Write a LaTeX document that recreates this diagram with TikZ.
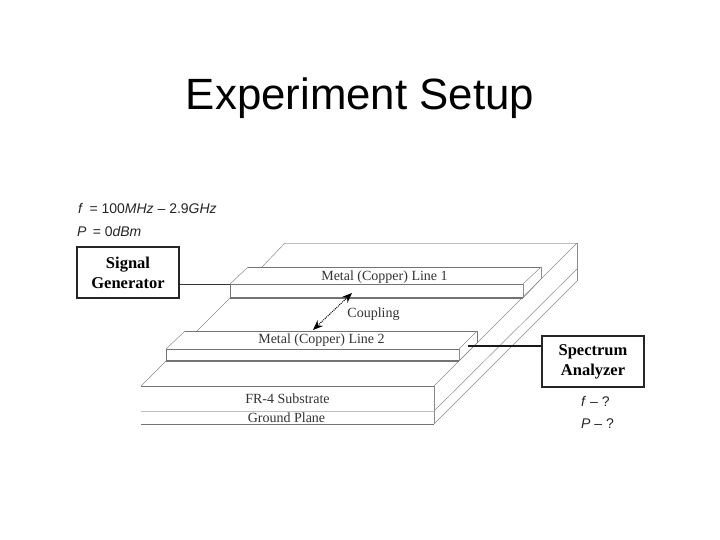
\documentclass[tikz,border=0pt]{standalone}
\usepackage{fontspec}
\setmainfont{Liberation Serif}
\newfontfamily\sansf{Liberation Sans}
\usetikzlibrary{arrows.meta}
\definecolor{edgegray}{gray}{0.45}
\definecolor{softgray}{gray}{0.75}
\definecolor{thingray}{gray}{0.55}
\tikzset{
  x=1pt,y=-1pt,
  edge/.style={draw=edgegray,line width=0.8pt},
  softedge/.style={draw=softgray,line width=0.7pt},
  thinedge/.style={draw=thingray,line width=0.5pt},
  frontedge/.style={draw=edgegray,line width=1.2pt},
  instrument/.style={draw=black!85,line width=1.1pt,fill=white,inner sep=0pt,
    minimum width=102pt,minimum height=51pt,align=center,
    font=\fontsize{16.5}{20}\selectfont\bfseries},
  wire/.style={draw=black!80,line width=0.8pt},
  heavywire/.style={draw=black!90,line width=1.2pt},
  layerlabel/.style={anchor=base,inner sep=0pt,text=black!80,font=\fontsize{14}{16}\selectfont},
  readout/.style={anchor=base west,inner sep=0pt,text=black!85,font=\sansf\fontsize{14}{16}\selectfont},
}
\begin{document}
\begin{tikzpicture}
\useasboundingbox[fill=white] (0,0) rectangle (720,540);
\node[anchor=base,inner sep=0pt,font=\sansf\fontsize{43.8}{48}\selectfont] (title) at (360,110) {Experiment Setup};
% substrate
\draw[softedge] (285,243) -- (577,243);
\draw[thinedge] (577,243) -- (577,281);
\draw[thinedge] (577,269) -- (434,411);
\draw[thinedge] (577,281) -- (434,424);
\draw[thinedge] (577,243) -- (434,386);
\draw[thinedge] (434,386) -- (434,424);
\draw[thinedge] (285,243) -- (262,267);
\draw[thinedge] (230,298) -- (197,331);
\draw[thinedge] (166,361) -- (141,386);
\draw[edge] (141,386) -- (434,386);
\draw[softedge] (141,411) -- (434,411);
\draw[edge] (141,424) -- (434,424);
% line 1
\draw[edge] (248,267) -- (541,267);
\draw[thinedge] (248,267) -- (230,284);
\draw[edge] (230,284) -- (523,284);
\draw[frontedge] (230,298) -- (523,298);
\draw[edge] (230,284) -- (230,298);
\draw[thinedge] (523,284) -- (523,298);
\draw[thinedge] (523,284) -- (541,267);
\draw[thinedge] (523,298) -- (541,279);
\draw[thinedge] (541,267) -- (541,279);
% line 2
\draw[edge] (185,331) -- (477,331);
\draw[thinedge] (185,331) -- (166,349);
\draw[edge] (166,349) -- (459,349);
\draw[frontedge] (166,361) -- (459,361);
\draw[edge] (166,349) -- (166,361);
\draw[thinedge] (459,349) -- (459,361);
\draw[thinedge] (459,349) -- (477,331);
\draw[thinedge] (459,361) -- (477,343);
\draw[edge] (477,331) -- (477,343);
% labels
\node[layerlabel] (m1) at (384.5,280) {Metal (Copper) Line 1};
\node[layerlabel] (m2) at (321.5,343.5) {Metal (Copper) Line 2};
\node[layerlabel] (cp) at (373.5,317) {Coupling};
\node[layerlabel] (fr) at (287.5,403) {FR-4 Substrate};
\node[layerlabel] (gp) at (286.5,422) {Ground Plane};
% instruments
\node[instrument] (sg) at (128,272.5) {Signal\\Generator};
\node[instrument] (sa) at (593,361.5) {Spectrum\\Analyzer};
\coordinate (sgend) at (230,284);
\coordinate (saend) at (468,346);
\draw[wire] (sg.east |- sgend) -- (sgend);
\draw[heavywire] (sa.west |- saend) -- (saend);
% coupling arrow
\coordinate (cpa) at (313,330);
\coordinate (cpb) at (352,293);
\draw[densely dotted,line width=1pt,{Stealth[length=10pt,width=8pt]}-{Stealth[length=10pt,width=8pt]},black] (cpa) -- (cpb);
% readouts
\node[readout] (fin) at (78,214) {\textit{f} \,= 100\textit{MHz} – 2.9\textit{GHz}};
\node[readout] (pin) at (77,236.5) {\textit{P} \,= 0\textit{dBm}};
\node[readout] (fout) at (581,406) {\textit{f} – ?};
\node[readout] (pout) at (581,428) {\textit{P} – ?};
\end{tikzpicture}
\end{document}
